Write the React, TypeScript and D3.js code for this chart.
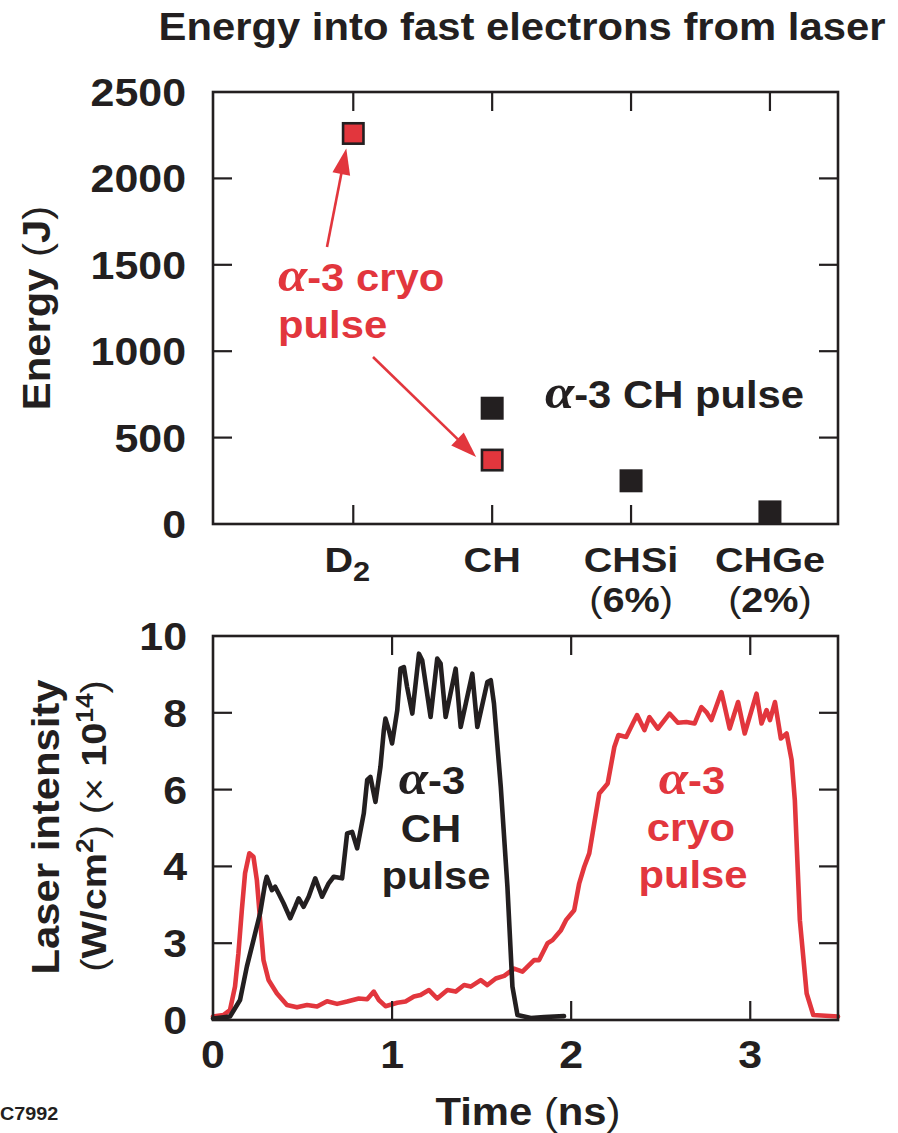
import React from "react";
import * as d3 from "d3";

const W = 898;
const H = 1133;
const INK = "#231f20";
const RED = "#e2363d";
const FONT = "'Liberation Sans', Arial, Helvetica, sans-serif";
const GREEK = "'Liberation Serif', 'DejaVu Serif', serif";
const STRETCH = 1.1;

// ---- Top panel: energy into fast electrons ----
const categories = ["D2", "CH", "CHSi", "CHGe"];
const categoryNotes = ["", "", "(6%)", "(2%)"];
const energyTicks = [0, 500, 1000, 1500, 2000, 2500];
const chPulseCategories = ["CH", "CHSi", "CHGe"];
const chPulseEnergy = [670, 250, 70];
const cryoPulseCategories = ["D2", "CH"];
const cryoPulseEnergy = [2260, 370];

// ---- Bottom panel: laser pulse shapes ----
const timeTicks = [0, 1, 2, 3];
const intensityTicks = [0, 2, 4, 6, 8, 10];
const intensityTickLabels = ["0", "3", "4", "6", "8", "10"];

const chPulseTime = [
  0.0, 0.095, 0.151, 0.189, 0.226, 0.263, 0.291, 0.3, 0.329, 0.347, 0.366, 0.394,
  0.431, 0.459, 0.478, 0.506, 0.534, 0.571, 0.609, 0.646, 0.674, 0.721, 0.749,
  0.777, 0.805, 0.842, 0.861, 0.879, 0.907, 0.935, 0.954, 0.963, 0.982, 1.0,
  1.029, 1.047, 1.066, 1.084, 1.113, 1.15, 1.168, 1.215, 1.252, 1.271, 1.299,
  1.355, 1.383, 1.448, 1.476, 1.532, 1.551, 1.569, 1.607, 1.644, 1.672, 1.7,
  1.775, 1.85, 1.96,
];
const chPulseIntensity = [
  0.04, 0.09, 0.52, 1.39, 2.08, 2.78, 3.56, 3.73, 3.38, 3.47, 3.3, 3.04,
  2.65, 2.95, 3.17, 2.95, 3.21, 3.69, 3.21, 3.56, 3.73, 3.69, 4.86,
  4.9, 4.47, 5.38, 6.25, 6.33, 5.68, 6.59, 7.55, 7.85, 7.55, 7.2,
  8.07, 9.15, 9.19, 8.67, 7.98, 9.54, 9.37, 7.89, 9.41, 9.28, 7.89,
  9.15, 7.63, 9.02, 7.63, 8.8, 8.85, 8.24, 6.07, 3.47, 0.87, 0.13,
  0.05, 0.08, 0.1,
];

const cryoPulseTime = [
  0.0, 0.058, 0.095, 0.123, 0.142, 0.161, 0.179, 0.203, 0.226, 0.245, 0.263, 0.282,
  0.31, 0.357, 0.413, 0.469, 0.525, 0.581, 0.637, 0.693, 0.749, 0.814, 0.861,
  0.898, 0.926, 0.963, 1.029, 1.075, 1.122, 1.159, 1.206, 1.252, 1.309, 1.355,
  1.402, 1.439, 1.495, 1.532, 1.579, 1.626, 1.681, 1.728, 1.793, 1.821, 1.868,
  1.896, 1.943, 1.971, 2.017, 2.045, 2.073, 2.101, 2.129, 2.157, 2.204, 2.241,
  2.264, 2.307, 2.344, 2.368, 2.409, 2.437, 2.484, 2.549, 2.596, 2.643, 2.689,
  2.727, 2.755, 2.783, 2.839, 2.885, 2.932, 2.969, 3.035, 3.063, 3.091, 3.11,
  3.138, 3.171, 3.203, 3.231, 3.249, 3.277, 3.315, 3.352, 3.49,
];
const cryoPulseIntensity = [
  0.09, 0.13, 0.26, 0.87, 1.74, 2.86, 3.82, 4.34, 4.25, 3.64, 2.6, 1.56,
  1.04, 0.69, 0.39, 0.33, 0.39, 0.35, 0.49, 0.42, 0.48, 0.56, 0.54,
  0.74, 0.52, 0.36, 0.45, 0.48, 0.61, 0.65, 0.78, 0.56, 0.78, 0.74,
  0.91, 0.87, 1.04, 0.91, 1.08, 1.15, 1.34, 1.26, 1.56, 1.56, 2.0,
  2.08, 2.34, 2.6, 2.86, 3.56, 3.99, 4.34, 5.12, 5.9, 6.16, 7.11,
  7.42, 7.37, 7.72, 7.94, 7.55, 7.89, 7.59, 7.98, 7.74, 7.76, 7.72,
  8.15, 8.02, 7.81, 8.54, 7.59, 8.28, 7.46, 8.5, 7.72, 8.07, 7.81,
  8.28, 7.33, 7.46, 6.77, 5.72, 2.6, 0.69, 0.13, 0.09,
];

// Scales
const top = { left: 213, right: 838, top: 92, bottom: 524 };
const bot = { left: 213, right: 838, top: 636, bottom: 1020 };
const xCat = d3.scaleLinear().domain([-0.01, 4.49]).range([top.left, top.right]);
const catX = (c: string) => xCat(categories.indexOf(c) + 1);
const yE = d3.scaleLinear().domain([0, 2500]).range([top.bottom, top.top]);
const xT = d3.scaleLinear().domain([0, 3.49]).range([bot.left, bot.right]);
const yI = d3.scaleLinear().domain([0, 10]).range([bot.bottom, bot.top]);

const TICK = 19;
const FRAME_W = 2.6;
const NOTE = 38;
const ALPHA = 48;

type LabelProps = {
  x: number;
  y: number;
  size: number;
  anchor?: "start" | "middle" | "end";
  rotate?: number;
  fill?: string;
  children: React.ReactNode;
};

function Label({ x, y, size, anchor = "start", rotate = 0, fill = INK, children }: LabelProps) {
  return (
    <g transform={`translate(${x},${y}) rotate(${rotate}) scale(${STRETCH},1)`}>
      <text fontFamily={FONT} fontSize={size} fontWeight="bold" textAnchor={anchor} fill={fill}>
        {children}
      </text>
    </g>
  );
}

const Alpha = () => (
  <tspan fontFamily={GREEK} fontStyle="italic" fontWeight="bold" fontSize={ALPHA}>
    α
  </tspan>
);
const Paren = ({ c }: { c: string }) => <tspan fontWeight="normal">{c}</tspan>;

function Arrow({ x1, y1, x2, y2, color }: { x1: number; y1: number; x2: number; y2: number; color: string }) {
  const dx = x2 - x1;
  const dy = y2 - y1;
  const len = Math.hypot(dx, dy);
  const ux = dx / len;
  const uy = dy / len;
  const headL = 26;
  const headW = 9;
  const bx = x2 - ux * headL;
  const by = y2 - uy * headL;
  const pts = [
    [x2, y2],
    [bx - uy * headW, by + ux * headW],
    [bx + uy * headW, by - ux * headW],
  ]
    .map((p) => p.join(","))
    .join(" ");
  return (
    <g>
      <line x1={x1} y1={y1} x2={bx + ux * 2} y2={by + uy * 2} stroke={color} strokeWidth={2.6} />
      <polygon points={pts} fill={color} />
    </g>
  );
}

export default function App() {
  const chLine = d3
    .line<number>()
    .x((_, i) => xT(chPulseTime[i]))
    .y((d) => yI(d));
  const cryoLine = d3
    .line<number>()
    .x((_, i) => xT(cryoPulseTime[i]))
    .y((d) => yI(d));

  const sq = 23;
  const d2x = catX("D2");
  const d2y = yE(cryoPulseEnergy[0]);
  const chx = catX("CH");
  const chy = yE(cryoPulseEnergy[1]);

  return (
    <div style={{ position: "absolute", left: 0, top: 0 }}>
      <svg width={W} height={H} viewBox={`0 0 ${W} ${H}`} style={{ display: "block", background: "#fff" }}>
        {/* Title */}
        <Label x={522} y={40} size={38} anchor="middle">
          Energy into fast electrons from laser
        </Label>

        {/* ===== Top panel ===== */}
        <rect
          x={top.left}
          y={top.top}
          width={top.right - top.left}
          height={top.bottom - top.top}
          fill="none"
          stroke={INK}
          strokeWidth={FRAME_W}
        />
        {categories.map((c) => (
          <g key={c}>
            <line x1={catX(c)} x2={catX(c)} y1={top.bottom} y2={top.bottom - TICK} stroke={INK} strokeWidth={2.2} />
            <line x1={catX(c)} x2={catX(c)} y1={top.top} y2={top.top + TICK} stroke={INK} strokeWidth={2.2} />
          </g>
        ))}
        {energyTicks.slice(1, -1).map((t) => (
          <g key={t}>
            <line x1={top.left} x2={top.left + TICK} y1={yE(t)} y2={yE(t)} stroke={INK} strokeWidth={2.2} />
            <line x1={top.right} x2={top.right - TICK} y1={yE(t)} y2={yE(t)} stroke={INK} strokeWidth={2.2} />
          </g>
        ))}
        {energyTicks.map((t) => (
          <Label key={t} x={186} y={yE(t) + 14} size={39} anchor="end">
            {String(t)}
          </Label>
        ))}
        <Label x={50} y={308} size={38} anchor="middle" rotate={-90}>
          Energy <Paren c="(" />J<Paren c=")" />
        </Label>

        {categories.map((c, i) => {
          const m = c.match(/^(\D+)(\d+)$/);
          return (
            <g key={c}>
              <Label x={catX(c) - (m ? 6 : 0)} y={572} size={36} anchor="middle">
                {m ? (
                  <>
                    {m[1]}
                    <tspan dy={9} fontSize={28}>
                      {m[2]}
                    </tspan>
                  </>
                ) : (
                  c
                )}
              </Label>
              {categoryNotes[i] && (
                <Label x={catX(c)} y={612} size={36} anchor="middle">
                  <Paren c="(" />
                  {categoryNotes[i].slice(1, -1)}
                  <Paren c=")" />
                </Label>
              )}
            </g>
          );
        })}

        {/* arrows from the cryo label */}
        <Arrow x1={327} y1={247} x2={d2x - 7} y2={d2y + 15} color={RED} />
        <Arrow x1={373} y1={357} x2={chx - 16} y2={chy - 3} color={RED} />

        {/* markers */}
        {chPulseCategories.map((c, i) => (
          <rect
            key={"ch" + c}
            x={catX(c) - sq / 2}
            y={yE(chPulseEnergy[i]) - sq / 2}
            width={sq}
            height={sq}
            fill={INK}
          />
        ))}
        {cryoPulseCategories.map((c, i) => (
          <rect
            key={"cr" + c}
            x={catX(c) - (sq - 2.6) / 2}
            y={yE(cryoPulseEnergy[i]) - (sq - 2.6) / 2}
            width={sq - 2.6}
            height={sq - 2.6}
            fill={RED}
            stroke={INK}
            strokeWidth={2.6}
          />
        ))}

        <Label x={278} y={291} size={NOTE} fill={RED}>
          <Alpha />-3 cryo
        </Label>
        <Label x={278} y={338} size={NOTE} fill={RED}>
          pulse
        </Label>
        <Label x={545} y={408} size={NOTE}>
          <Alpha />-3 CH pulse
        </Label>

        {/* ===== Bottom panel ===== */}
        <path
          d={cryoLine(cryoPulseIntensity) ?? ""}
          fill="none"
          stroke={RED}
          strokeWidth={4.6}
          strokeLinejoin="round"
          strokeLinecap="round"
        />
        <path
          d={chLine(chPulseIntensity) ?? ""}
          fill="none"
          stroke={INK}
          strokeWidth={4.6}
          strokeLinejoin="round"
          strokeLinecap="round"
        />

        <rect
          x={bot.left}
          y={bot.top}
          width={bot.right - bot.left}
          height={bot.bottom - bot.top}
          fill="none"
          stroke={INK}
          strokeWidth={FRAME_W}
        />
        {timeTicks.slice(1).map((t) => (
          <g key={t}>
            <line x1={xT(t)} x2={xT(t)} y1={bot.bottom} y2={bot.bottom - TICK} stroke={INK} strokeWidth={2.2} />
            <line x1={xT(t)} x2={xT(t)} y1={bot.top} y2={bot.top + TICK} stroke={INK} strokeWidth={2.2} />
          </g>
        ))}
        {intensityTicks.slice(1, -1).map((t) => (
          <g key={t}>
            <line x1={bot.left} x2={bot.left + TICK} y1={yI(t)} y2={yI(t)} stroke={INK} strokeWidth={2.2} />
            <line x1={bot.right} x2={bot.right - TICK} y1={yI(t)} y2={yI(t)} stroke={INK} strokeWidth={2.2} />
          </g>
        ))}
        {intensityTicks.map((t, i) => (
          <Label key={t} x={187} y={yI(t) + 14} size={39} anchor="end">
            {intensityTickLabels[i]}
          </Label>
        ))}
        {timeTicks.map((t) => (
          <Label key={t} x={xT(t)} y={1068} size={39} anchor="middle">
            {String(t)}
          </Label>
        ))}
        <Label x={528} y={1125} size={38} anchor="middle">
          Time <Paren c="(" />ns<Paren c=")" />
        </Label>
        <Label x={59} y={827} size={38} anchor="middle" rotate={-90}>
          Laser intensity
        </Label>
        <Label x={106} y={826} size={36} anchor="middle" rotate={-90}>
          <Paren c="(" />W/cm
          <tspan dy={-13} fontSize={24}>
            2
          </tspan>
          <tspan dy={13}>
            <Paren c=")" /> <Paren c="(" />
          </tspan>
          <tspan fontWeight="normal">× </tspan>10
          <tspan dy={-13} fontSize={24}>
            14
          </tspan>
          <tspan dy={13}>
            <Paren c=")" />
          </tspan>
        </Label>

        <Label x={432} y={794} size={NOTE} anchor="middle">
          <Alpha />-3
        </Label>
        <Label x={431} y={842} size={NOTE} anchor="middle">
          CH
        </Label>
        <Label x={436} y={889} size={NOTE} anchor="middle">
          pulse
        </Label>
        <Label x={692} y={794} size={NOTE} anchor="middle" fill={RED}>
          <Alpha />-3
        </Label>
        <Label x={691} y={841} size={NOTE} anchor="middle" fill={RED}>
          cryo
        </Label>
        <Label x={693} y={888} size={NOTE} anchor="middle" fill={RED}>
          pulse
        </Label>

        <Label x={0} y={1120} size={18}>
          C7992
        </Label>
      </svg>
    </div>
  );
}
